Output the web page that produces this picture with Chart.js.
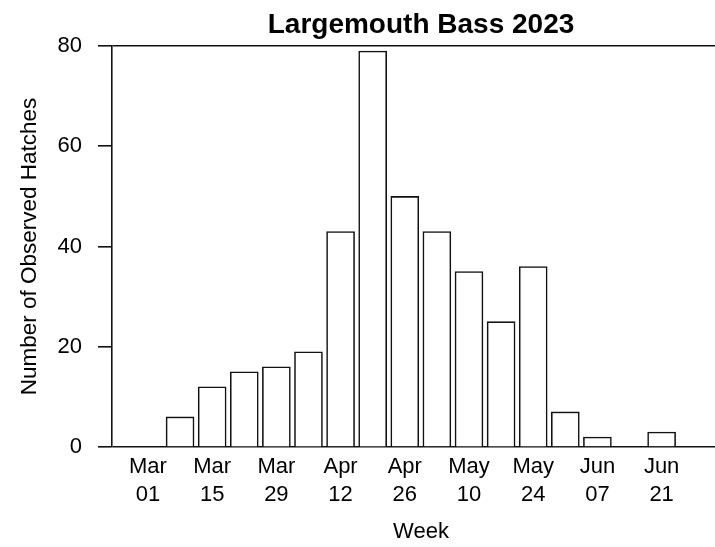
<!DOCTYPE html>
<html>
<head>
<meta charset="utf-8">
<script src="https://cdn.jsdelivr.net/npm/chart.js@4"></script>
<style>
  html, body { margin: 0; padding: 0; background: #fff; overflow: hidden; }
  #wrap { width: 715px; height: 547px; overflow: hidden; }
</style>
</head>
<body>
<div id="wrap"><canvas id="hatchChart" width="730" height="547"></canvas></div>
<script>
const weeks = ['Mar 01', 'Mar 08', 'Mar 15', 'Mar 22', 'Mar 29', 'Apr 05', 'Apr 12', 'Apr 19', 'Apr 26',
               'May 03', 'May 10', 'May 17', 'May 24', 'May 31', 'Jun 07', 'Jun 14', 'Jun 21'];
const hatches = [0, 6, 12, 15, 16, 19, 43, 79, 50, 43, 35, 25, 36, 7, 2, 0, 3];
const yTicks = [0, 20, 40, 60, 80];
const chartTitle = 'Largemouth Bass 2023';

const FONT = "'Liberation Sans', Arial, sans-serif";
const INK = '#111';

// title centred over the plot area (like R's main title)
const plotTitle = {
    id: 'plotTitle',
    afterDraw(chart) {
        const ctx = chart.ctx;
        const area = chart.chartArea;
        ctx.save();
        ctx.font = 'bold 28px ' + FONT;
        ctx.fillStyle = '#000';
        ctx.textAlign = 'center';
        ctx.textBaseline = 'alphabetic';
        ctx.fillText(chartTitle, (area.left + area.right) / 2, 33);
        ctx.restore();
    }
};

const points = hatches.map((v, i) => ({ x: i, y: v }));

new Chart(document.getElementById('hatchChart').getContext('2d'), {
    type: 'bar',
    data: {
        datasets: [{
            data: points,
            backgroundColor: '#fff',
            borderColor: INK,
            borderWidth: 1.6,
            borderSkipped: 'start',
            barThickness: 28
        }]
    },
    options: {
        responsive: false,
        animation: false,
        devicePixelRatio: 1,
        layout: { padding: { top: 46, left: 0, right: 0, bottom: 0 } },
        plugins: {
            legend: { display: false },
            tooltip: { enabled: false }
        },
        scales: {
            x: {
                type: 'linear',
                offset: false,
                min: -1.12,
                max: 18.13,
                grid: { display: false },
                border: { display: false },
                afterBuildTicks: (scale) => {
                    scale.ticks = weeks.map((w, i) => ({ value: i })).filter(t => t.value % 2 === 0);
                },
                afterFit: (scale) => { scale.height = 100; },
                ticks: {
                    autoSkip: false,
                    maxRotation: 0,
                    padding: -2,
                    color: '#000',
                    font: { family: FONT, size: 22, lineHeight: 1.27 },
                    callback: (value) => weeks[value] ? weeks[value].split(' ') : ''
                },
                title: {
                    display: true,
                    text: 'Week',
                    color: '#000',
                    font: { family: FONT, size: 22, lineHeight: 1.2 },
                    padding: { top: 10, bottom: 2 }
                }
            },
            y: {
                min: 0,
                max: 80,
                afterBuildTicks: (scale) => {
                    scale.ticks = yTicks.map(v => ({ value: v }));
                },
                afterFit: (scale) => { scale.width = 112; },
                grid: {
                    drawTicks: true,
                    tickLength: 14,
                    tickColor: INK,
                    tickWidth: 1.6,
                    lineWidth: 1.6,
                    color: (ctx) => (ctx.tick && (ctx.tick.value === 0 || ctx.tick.value === 80)) ? INK : 'rgba(0,0,0,0)'
                },
                border: { display: true, color: INK, width: 1.6 },
                ticks: {
                    padding: 16,
                    color: '#000',
                    font: { family: FONT, size: 22 }
                },
                title: {
                    display: true,
                    text: 'Number of Observed Hatches',
                    color: '#000',
                    font: { family: FONT, size: 22.5, lineHeight: 1.2 },
                    padding: { top: 16, bottom: 0 }
                }
            }
        }
    },
    plugins: [plotTitle]
});
</script>
</body>
</html>
